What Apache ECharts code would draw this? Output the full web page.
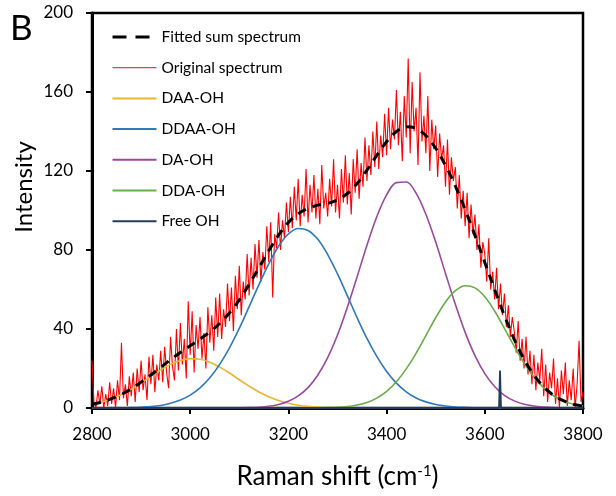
<!DOCTYPE html>
<html>
<head>
<meta charset="utf-8">
<script src="https://cdn.jsdelivr.net/npm/echarts@6/dist/echarts.min.js"></script>
<style>
  html, body { margin: 0; padding: 0; background: #fff; }
  #chart { width: 616px; height: 496px; }
</style>
</head>
<body>
<div id="chart"></div>
<script>
// fitted components, read every 20 cm-1
const fitShift = [2800, 2820, 2840, 2860, 2880, 2900, 2920, 2940, 2960, 2980,
  3000, 3020, 3040, 3060, 3080, 3100, 3120, 3140, 3160, 3180,
  3200, 3220, 3240, 3260, 3280, 3300, 3320, 3340, 3360, 3380,
  3400, 3420, 3440, 3460, 3480, 3500, 3520, 3540, 3560, 3580,
  3600, 3620, 3640, 3660, 3680, 3700, 3720, 3740, 3760, 3780, 3800];

const daaOH = [1.9, 3.0, 4.7, 6.8, 9.5, 12.7, 16.0, 19.3, 22.1, 24.1,
  25.0, 24.7, 23.2, 20.7, 17.7, 14.3, 11.1, 8.1, 5.7, 3.8,
  2.4, 1.4, 0.8, 0.5, 0.2, 0.1, 0, 0, 0, 0,
  0, 0, 0, 0, 0, 0, 0, 0, 0, 0,
  0, 0, 0, 0, 0, 0, 0, 0, 0, 0, 0];

const ddaaOH = [0, 0, 0, 0.1, 0.2, 0.4, 0.7, 1.3, 2.4, 4.0,
  6.5, 10.2, 15.3, 22.1, 30.5, 40.3, 51.3, 62.5, 73.0, 81.9,
  88.1, 90.9, 89.9, 85.4, 77.7, 67.9, 56.9, 45.7, 35.2, 26.1,
  18.5, 12.6, 8.2, 5.1, 3.1, 1.8, 1.0, 0.5, 0.3, 0.1,
  0, 0, 0, 0, 0, 0, 0, 0, 0, 0, 0];

const daOH = [0, 0, 0, 0, 0, 0, 0, 0, 0, 0,
  0, 0, 0, 0, 0, 0.1, 0.2, 0.4, 0.9, 1.8,
  3.4, 6.1, 10.3, 16.7, 25.5, 37.0, 51.0, 66.5, 82.4, 96.8,
  107.9, 114.1, 114.4, 108.8, 98.1, 84.0, 68.1, 52.5, 38.3, 26.5,
  17.4, 10.9, 6.4, 3.6, 1.9, 1.0, 0.5, 0.2, 0.1, 0, 0];

const ddaOH = [0, 0, 0, 0, 0, 0, 0, 0, 0, 0,
  0, 0, 0, 0, 0, 0, 0, 0, 0, 0,
  0, 0, 0, 0.1, 0.2, 0.4, 0.7, 1.5, 2.8, 5.0,
  8.4, 13.3, 19.8, 27.7, 36.7, 45.7, 53.7, 59.4, 61.9, 60.8,
  56.3, 49.1, 40.3, 31.2, 22.8, 15.7, 10.2, 6.2, 3.6, 1.9, 1.0];

const fittedSum = [1.9, 3.0, 4.7, 6.9, 9.7, 13.1, 16.7, 20.6, 24.5, 28.1,
  31.5, 34.9, 38.5, 42.8, 48.2, 54.7, 62.6, 71.0, 79.6, 87.5,
  93.9, 98.4, 101.0, 102.7, 103.6, 105.4, 108.6, 113.7, 120.4, 127.9,
  134.8, 140.0, 142.4, 141.6, 137.9, 131.5, 122.8, 112.4, 100.5, 87.4,
  73.7, 60.0, 46.7, 34.8, 24.7, 16.7, 10.7, 6.4, 3.7, 1.9, 1.0];

const freeShift = [2800, 3629, 3631, 3633, 3800];
const freeOH = [0, 0, 19, 0, 0];

// measured spectrum, every 4 cm-1 from 2800
const rawStart = 2800;
const rawStep = 4;
const originalSpectrum = [
  24, 3, 0, 9, 2, 11, 0, 7, 1, 13,
  2, 10, 0, 14, 4, 33, 5, 12, 1, 16,
  6, 18, 3, 20, 8, 24, 9, 17, 4, 26,
  12, 27, 8, 22, 14, 29, 13, 31, 18, 10,
  36, 21, 14, 40, 19, 43, 22, 35, 15, 54,
  27, 49, 18, 42, 30, 46, 25, 38, 20, 51,
  33, 47, 29, 56, 36, 58, 35, 50, 41, 63,
  44, 61, 39, 67, 50, 72, 47, 64, 55, 78,
  57, 76, 60, 83, 66, 85, 64, 79, 70, 92,
  74, 94, 56, 88, 81, 99, 80, 95, 86, 104,
  89, 107, 91, 112, 95, 116, 92, 108, 97, 121,
  94, 113, 99, 118, 96, 111, 93, 123, 101, 109,
  97, 116, 102, 126, 99, 113, 96, 121, 104, 128,
  103, 119, 98, 126, 109, 131, 106, 124, 112, 137,
  115, 133, 118, 140, 122, 145, 121, 138, 127, 149,
  128, 152, 131, 146, 136, 161, 133, 150, 125, 158,
  137, 177, 129, 165, 140, 152, 123, 170, 135, 148,
  129, 158, 120, 146, 131, 143, 117, 139, 126, 133,
  112, 136, 108, 127, 115, 122, 101, 118, 96, 110,
  92, 109, 86, 103, 88, 98, 80, 93, 71, 84,
  78, 64, 86, 60, 69, 55, 71, 50, 63, 47,
  58, 41, 52, 36, 46, 39, 28, 44, 24, 35,
  20, 36, 17, 29, 12, 27, 9, 23, 14, 30,
  6, 22, 3, 18, 10, 25, 2, 15, 0, 19,
  7, 23, 1, 14, 4, 20, 0, 12, 34, 3,
  8];

const xTicks = { min: 2800, max: 3800, step: 200 };
const yTicks = { min: 0, max: 200, step: 40 };

const pairs = (xs, ys) => ys.map((v, i) => [xs[i], v]);
const rawPairs = originalSpectrum.map((v, i) => [rawStart + i * rawStep, v]);

const FONT = 'Lato';
const chart = echarts.init(document.getElementById('chart'));

const compLine = (name, data, color) => ({
  name: name,
  type: 'line',
  data: data,
  symbol: 'none',
  smooth: 0.35,
  z: 3,
  lineStyle: { color: color, width: 1.6 },
  itemStyle: { color: color }
});

chart.setOption({
  animation: false,
  grid: { left: 92, right: 33, top: 13, bottom: 88, show: true, borderColor: '#000', borderWidth: 2.5 },
  legend: {
    orient: 'vertical',
    left: 111,
    top: 29,
    padding: 0,
    itemWidth: 44,
    itemHeight: 16,
    itemGap: 14.7,
    selectedMode: false,
    itemStyle: { opacity: 0 },
    textStyle: { fontFamily: FONT, fontSize: 15.5, color: '#000' },
    data: [
      { name: 'Fitted sum spectrum', lineStyle: { color: '#000', width: 3, type: [14, 9] } },
      { name: 'Original spectrum', lineStyle: { color: '#d24b48', width: 1.3 } },
      { name: 'DAA-OH', lineStyle: { width: 2 } },
      { name: 'DDAA-OH', lineStyle: { width: 2 } },
      { name: 'DA-OH', lineStyle: { width: 2 } },
      { name: 'DDA-OH', lineStyle: { width: 2 } },
      { name: 'Free OH', lineStyle: { width: 2 } }
    ]
  },
  xAxis: {
    type: 'value',
    min: xTicks.min,
    max: xTicks.max,
    interval: xTicks.step,
    name: 'Raman shift (cm{sup|-1})',
    nameLocation: 'middle',
    nameGap: 56,
    nameTextStyle: {
      fontFamily: FONT, fontSize: 26, color: '#000',
      rich: { sup: { fontFamily: FONT, fontSize: 15, verticalAlign: 'top', lineHeight: 15, color: '#000' } }
    },
    splitLine: { show: false },
    axisLine: { lineStyle: { color: '#000', width: 3 } },
    axisTick: { length: 6, lineStyle: { color: '#000', width: 2 } },
    axisLabel: { margin: 18, fontFamily: FONT, fontSize: 17, color: '#000', formatter: v => String(v) }
  },
  yAxis: {
    type: 'value',
    min: yTicks.min,
    max: yTicks.max,
    interval: yTicks.step,
    splitLine: { show: false },
    axisLine: { show: true, lineStyle: { color: '#000', width: 3 } },
    axisTick: { show: true, length: 6, lineStyle: { color: '#000', width: 2 } },
    axisLabel: { margin: 19, fontFamily: FONT, fontSize: 17, color: '#000' }
  },
  graphic: [
    { type: 'text', x: 24, y: 187, rotation: Math.PI / 2,
      style: { text: 'Intensity', fontFamily: FONT, fontSize: 24, fill: '#000', align: 'center', verticalAlign: 'middle' } },
    { type: 'text', x: 10, y: 29,
      style: { text: 'B', fontFamily: FONT, fontSize: 35, fill: '#000', align: 'left', verticalAlign: 'middle' } }
  ],
  series: [
    {
      name: 'Original spectrum',
      type: 'line',
      data: rawPairs,
      symbol: 'none',
      z: 1,
      lineStyle: { color: '#ff0000', width: 1.1 },
      itemStyle: { color: '#ff0000' }
    },
    compLine('DAA-OH', pairs(fitShift, daaOH), '#e8b730'),
    compLine('DDAA-OH', pairs(fitShift, ddaaOH), '#2f78bb'),
    compLine('DA-OH', pairs(fitShift, daOH), '#9a4a9e'),
    compLine('DDA-OH', pairs(fitShift, ddaOH), '#6aab4a'),
    {
      name: 'Free OH',
      type: 'line',
      data: pairs(freeShift, freeOH),
      symbol: 'none',
      z: 4,
      lineStyle: { color: '#223d5a', width: 1.8 },
      itemStyle: { color: '#223d5a' }
    },
    {
      name: 'Fitted sum spectrum',
      type: 'line',
      data: pairs(fitShift, fittedSum),
      symbol: 'none',
      smooth: 0.35,
      z: 5,
      lineStyle: { color: '#000', width: 3, type: [9, 7] },
      itemStyle: { color: '#000' }
    }
  ]
});
</script>
</body>
</html>
